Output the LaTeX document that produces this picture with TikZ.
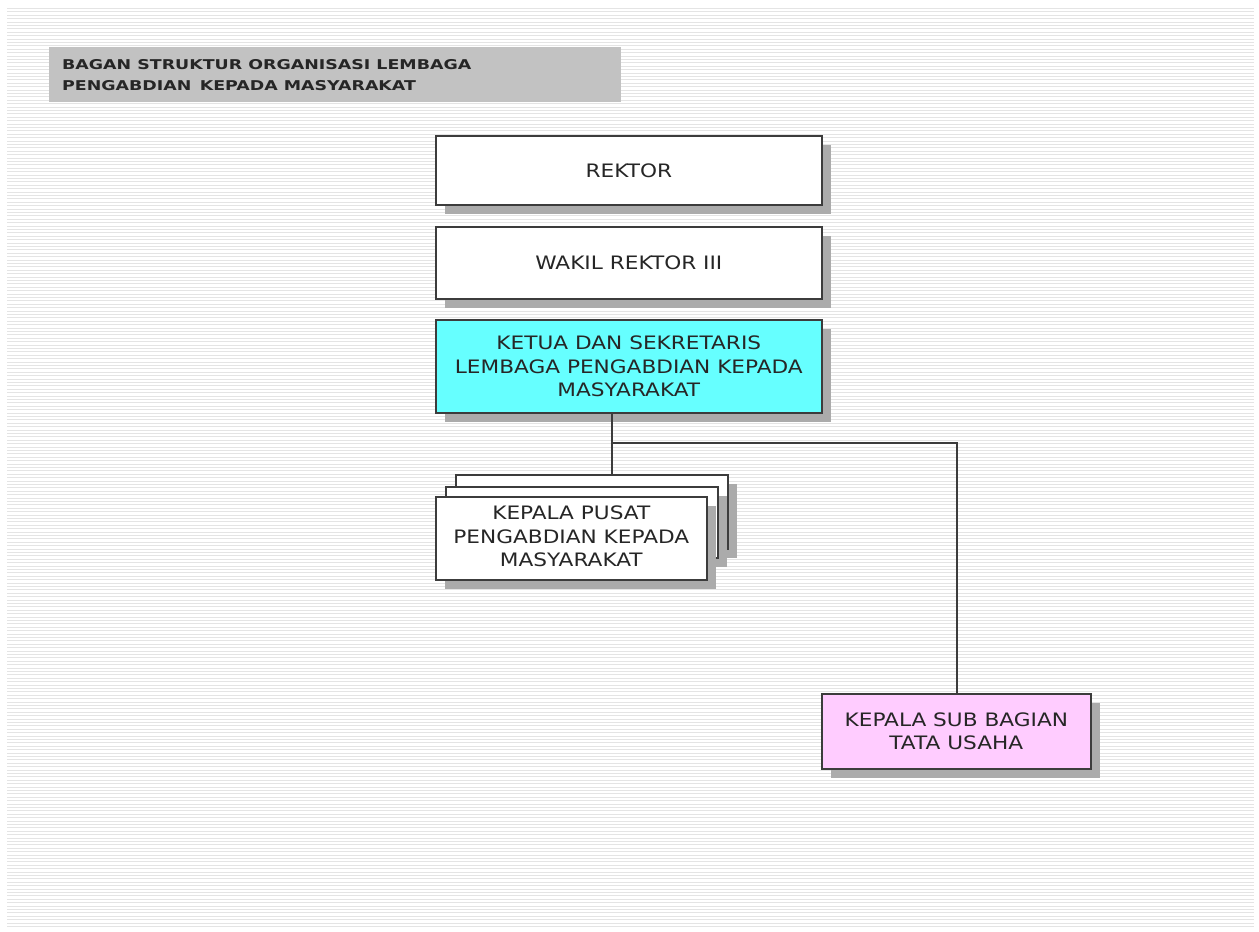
\documentclass[tikz,border=0pt]{standalone}
\usepackage{fontspec}
\setmainfont{DejaVu Sans}
\newfontfamily\boxfont[FakeStretch=1.17]{DejaVu Sans}
\newfontfamily\titlefont[FakeStretch=1.29]{DejaVu Sans}
\definecolor{stripe}{HTML}{E4E4E4}
\definecolor{titlegray}{HTML}{C2C2C2}
\definecolor{shadowgray}{HTML}{ABABAB}
\definecolor{edgegray}{HTML}{3C3C3C}
\definecolor{cyanfill}{HTML}{66FFFF}
\definecolor{pinkfill}{HTML}{FFCCFF}
\definecolor{textgray}{HTML}{262626}
\tikzset{
  orgbox/.style={draw=edgegray, line width=1.6pt, fill=white, minimum height=#1, inner sep=0pt},
  lbl/.style={font=\boxfont\fontsize{18.5}{23.5}\selectfont, text=textgray, align=center, inner sep=0pt},
  link/.style={draw=edgegray, line width=1.4pt}
}
\begin{document}
\begin{tikzpicture}[x=1pt,y=-1pt]
\useasboundingbox (0,0) rectangle (1259,932);
% striped background
\foreach \k in {0,...,270} {
  \draw[stripe, line width=1.1pt] (7,{8.5+3.4*\k}) -- (1254,{8.5+3.4*\k});
}
% title
\node[fill=titlegray, minimum width=572pt, minimum height=55pt, inner sep=0pt, anchor=north west] (title) at (49,47) {};
\node[anchor=base west, font=\titlefont\bfseries\fontsize{13.5}{21}\selectfont, text=black!85, align=left, inner sep=0pt] (titletext) at (62,90) {BAGAN STRUKTUR ORGANISASI LEMBAGA\\PENGABDIAN\, KEPADA MASYARAKAT};
% shadows
\fill[shadowgray] (445,145) rectangle (831,214);
\fill[shadowgray] (445,236) rectangle (831,308);
\fill[shadowgray] (445,329) rectangle (831,422);
\fill[shadowgray] (465,484) rectangle (737,558);
\fill[shadowgray] (831,703) rectangle (1100,778);
% REKTOR
\node[orgbox=69pt, minimum width=386pt, anchor=north west] (rektor) at (435,135) {};
\node[lbl] (rektortext) at (rektor.center) {REKTOR};
% WAKIL
\node[orgbox=72pt, minimum width=386pt, anchor=north west] (wakil) at (435,226) {};
\node[lbl] (wakiltext) at (wakil.center) {WAKIL REKTOR III};
% KETUA
\node[orgbox=93pt, minimum width=386pt, anchor=north west, fill=cyanfill] (ketua) at (435,319) {};
\node[lbl] (ketuatext) at (ketua.center) {KETUA DAN SEKRETARIS\\LEMBAGA PENGABDIAN KEPADA\\MASYARAKAT};
% stacked boxes
\node[orgbox=74pt, minimum width=272pt, anchor=north west] (back) at (455,474) {};
\fill[shadowgray] (455,496) rectangle (727,567);
\node[orgbox=71pt, minimum width=272pt, anchor=north west] (mid) at (445,486) {};
\fill[shadowgray] (445,506) rectangle (716,589);
\node[orgbox=83pt, minimum width=271pt, anchor=north west] (pusat) at (435,496) {};
\node[lbl] (pusattext) at ([yshift=2pt]pusat.center) {KEPALA PUSAT\\PENGABDIAN KEPADA\\MASYARAKAT};
% pink
\node[orgbox=75pt, minimum width=269pt, anchor=north west, fill=pinkfill] (tu) at (821,693) {};
\node[lbl] (tutext) at (tu.center) {KEPALA SUB BAGIAN\\TATA USAHA};
% connectors
\coordinate (drop) at (612,0);
\coordinate (split) at (612,443);
\coordinate (tucol) at (957,0);
\draw[link] (ketua.south -| drop) -- (back.north -| drop);
\draw[link] (split) -| (tu.north -| tucol);
\end{tikzpicture}
\end{document}
